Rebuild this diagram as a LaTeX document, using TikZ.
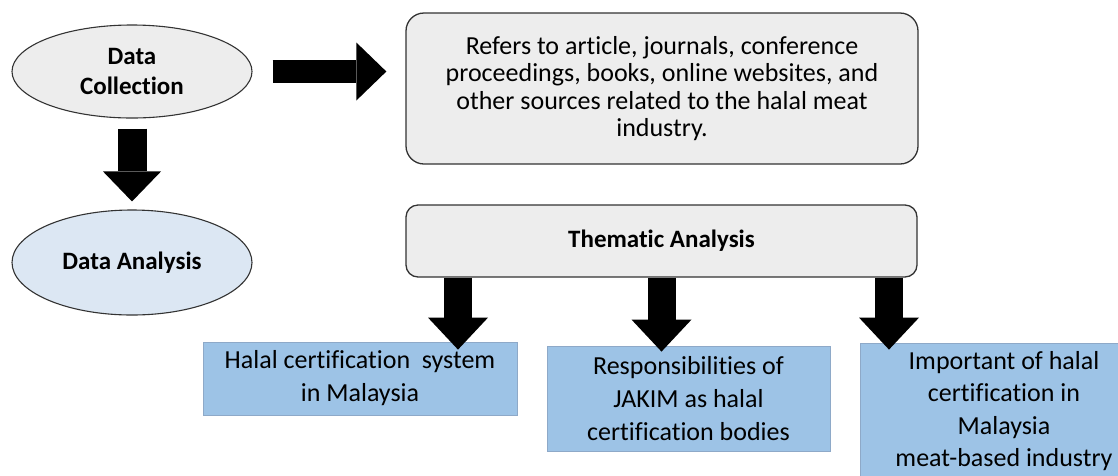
\documentclass[tikz,border=0pt]{standalone}
\usepackage{fontspec}
\setmainfont[Ligatures=CommonOff]{Carlito}
\usetikzlibrary{shapes.geometric,arrows.meta}
\definecolor{boxgray}{HTML}{EDEDED}
\definecolor{ovalblue}{HTML}{DCE7F3}
\definecolor{topicblue}{HTML}{9DC3E6}
\definecolor{topicedge}{HTML}{8EA9C8}
\tikzset{
    oval/.style={ellipse, draw=black!80, line width=1.1pt, inner sep=0pt, align=center, font=\fontsize{25}{30}\selectfont\bfseries},
    roundbox/.style={draw=black!80, line width=1.3pt, fill=boxgray, rounded corners=18pt, inner sep=0pt, align=center},
    topicbox/.style={draw=topicedge, line width=0.8pt, fill=topicblue, inner sep=0pt, align=center, font=\fontsize{26}{33}\selectfont},
    bigarrow/.style={black, line width=#1},
}
\begin{document}
\begin{tikzpicture}[x=1pt, y=-1pt]
        \useasboundingbox (0, 0) rectangle (1118, 475);

        \node[oval, fill=boxgray, minimum width=240pt, minimum height=93pt] (collect) at (132, 71.5) {Data\\Collection};
        \node[oval, fill=ovalblue, minimum width=240pt, minimum height=105pt] (analysis) at (132, 262.5) {Data Analysis};

        \node[roundbox, minimum width=512pt, minimum height=151pt, font=\fontsize{26}{27.5}\selectfont] (sources) at (662, 88.5)
            {Refers to article, journals, conference\\proceedings, books, online websites, and\\other sources related to the halal meat\\industry.};
        \node[roundbox, rounded corners=12pt, minimum width=511pt, minimum height=72pt, font=\fontsize{25}{30}\selectfont\bfseries] (thematic) at (661.5, 241) {Thematic Analysis};

        \node[topicbox, minimum width=314pt, minimum height=73pt] (system) at (360, 378.5) {Halal certification~ system\\in Malaysia};
        \node[topicbox, minimum width=283pt, minimum height=105pt] (jakim) at (688.5, 398.5) {Responsibilities of\\JAKIM as halal\\certification bodies};
        \node[topicbox, minimum width=288pt, minimum height=136pt, font=\fontsize{26}{32.5}\selectfont] (industry) at (1004, 411) {Important of halal\\certification in\\Malaysia\\meat-based industry};

        \draw[bigarrow=23pt, -{Triangle[length=30pt, width=58pt, line width=0pt]}, shorten <=20pt, shorten >=19pt] (collect.east) to (collect.east -| sources.west);
        \draw[bigarrow=29pt, -{Triangle[length=30pt, width=58pt, line width=0pt]}, shorten <=10pt, shorten >=8pt] (collect.south) to (analysis.north);

        \coordinate (ta) at ([xshift=-203.5pt]thematic.south);
        \coordinate (tb) at (thematic.south);
        \coordinate (tc) at ([xshift=227.5pt]thematic.south);
        \draw[bigarrow=28pt, -{Triangle[length=32pt, width=60pt, line width=0pt]}, shorten >=-8pt] (ta) to (ta |- system.north);
        \draw[bigarrow=28pt, -{Triangle[length=32pt, width=60pt, line width=0pt]}, shorten >=-6pt] (tb) to (tb |- jakim.north);
        \draw[bigarrow=28pt, -{Triangle[length=32pt, width=60pt, line width=0pt]}, shorten >=-7pt] (tc) to (tc |- industry.north);
\end{tikzpicture}
\end{document}
